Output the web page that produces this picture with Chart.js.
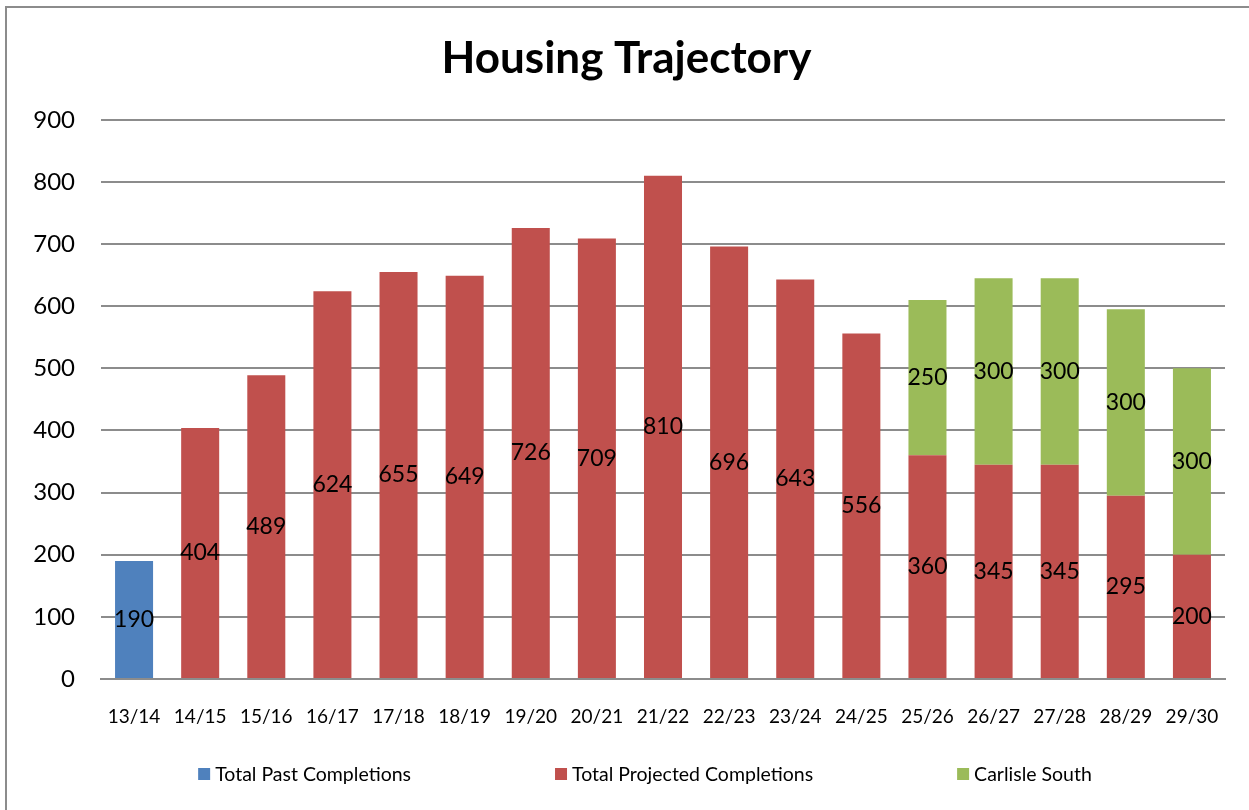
<!DOCTYPE html>
<html>
<head>
<meta charset="utf-8">
<script src="https://cdn.jsdelivr.net/npm/chart.js@4/dist/chart.umd.min.js"></script>
<style>
  html, body { margin: 0; padding: 0; background: #fff; overflow: hidden; }
  #wrap { position: relative; width: 1249px; height: 810px; }
  #frame { position: absolute; left: 5px; top: 6px; width: 1400px; height: 1000px; border: 2px solid #8c8c8c; box-sizing: border-box; }
  canvas { position: absolute; left: 0; top: 0; }
</style>
</head>
<body>
<div id="wrap">
  <div id="frame"></div>
  <canvas id="c" width="1249" height="810"></canvas>
</div>
<script>
const categories = ['13/14','14/15','15/16','16/17','17/18','18/19','19/20','20/21','21/22','22/23','23/24','24/25','25/26','26/27','27/28','28/29','29/30'];
const pastCompletions = [190, null, null, null, null, null, null, null, null, null, null, null, null, null, null, null, null];
const projectedCompletions = [null, 404, 489, 624, 655, 649, 726, 709, 810, 696, 643, 556, 360, 345, 345, 295, 200];
const carlisleSouth = [null, null, null, null, null, null, null, null, null, null, null, null, 250, 300, 300, 300, 300];
const yTicks = [0, 100, 200, 300, 400, 500, 600, 700, 800, 900];

const FONT = 'Lato, "Open Sans", sans-serif';

const valueLabels = {
  id: 'valueLabels',
  afterDatasetsDraw(chart) {
    const ctx = chart.ctx;
    ctx.save();
    ctx.font = '23px ' + FONT;
    ctx.fillStyle = '#000';
    ctx.textAlign = 'center';
    ctx.textBaseline = 'middle';
    chart.data.datasets.forEach((ds, di) => {
      const meta = chart.getDatasetMeta(di);
      meta.data.forEach((el, i) => {
        const v = ds.data[i];
        if (v === null || v === undefined) return;
        ctx.fillText(String(v), el.x, (el.y + el.base) / 2);
      });
    });
    ctx.restore();
  }
};

const customLegend = {
  id: 'customLegend',
  afterDraw(chart) {
    const ctx = chart.ctx;
    ctx.save();
    ctx.font = '19.5px ' + FONT;
    ctx.textBaseline = 'middle';
    ctx.textAlign = 'left';
    const box = 12, gapText = 5, gapItem = 144;
    const items = chart.data.datasets.map(ds => ({ text: ds.label, color: ds.backgroundColor, w: box + gapText + ctx.measureText(ds.label).width }));
    const total = items.reduce((a, it) => a + it.w, 0) + gapItem * (items.length - 1);
    let x = 645 - total / 2;
    const y = 774;
    items.forEach(it => {
      ctx.fillStyle = it.color;
      ctx.fillRect(x, y - box / 2, box, box);
      ctx.fillStyle = '#000';
      ctx.fillText(it.text, x + box + gapText, y + 1);
      x += it.w + gapItem;
    });
    ctx.restore();
  }
};

new Chart(document.getElementById('c'), {
  type: 'bar',
  data: {
    labels: categories,
    datasets: [
      { label: 'Total Past Completions', data: pastCompletions, backgroundColor: '#4F81BD' },
      { label: 'Total Projected Completions', data: projectedCompletions, backgroundColor: '#C0504D' },
      { label: 'Carlisle South', data: carlisleSouth, backgroundColor: '#9BBB59' }
    ]
  },
  options: {
    responsive: false,
    animation: false,
    devicePixelRatio: 1,
    layout: { padding: { left: 28, right: 24, top: 10, bottom: 0 } },
    datasets: { bar: { barPercentage: 0.575, categoryPercentage: 1.0 } },
    plugins: {
      legend: { display: false },
      tooltip: { enabled: false },
      title: {
        display: true,
        text: 'Housing Trajectory',
        color: '#000',
        font: { family: FONT, size: 44, weight: 'bold' },
        padding: { top: 22, bottom: 35 }
      }
    },
    scales: {
      x: {
        stacked: true,
        grid: { display: false, drawTicks: false },
        border: { display: true, color: '#8c8c8c', width: 2 },
        ticks: { color: '#000', font: { family: FONT, size: 19 }, padding: 26, maxRotation: 0 },
        afterFit: s => { s.height = 131; }
      },
      y: {
        stacked: true,
        min: 0, max: 900,
        afterBuildTicks: s => { s.ticks = yTicks.map(v => ({ value: v })); },
        grid: { color: '#8c8c8c', lineWidth: 2, drawTicks: false },
        border: { display: false },
        ticks: { color: '#000', font: { family: FONT, size: 24 }, padding: 26 },
        afterFit: s => { s.width = 73; }
      }
    }
  },
  plugins: [valueLabels, customLegend]
});
</script>
</body>
</html>
